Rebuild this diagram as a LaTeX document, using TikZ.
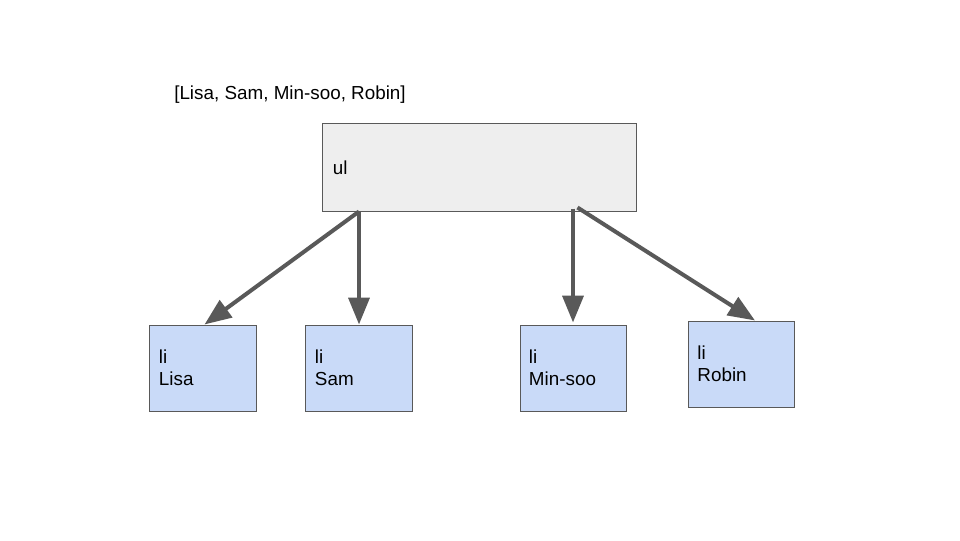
\documentclass[tikz,border=0pt]{standalone}
\usepackage{fontspec}
\setmainfont{Liberation Sans}
\usetikzlibrary{arrows.meta,calc}

\definecolor{domLine}{RGB}{89,89,89}
\definecolor{domUl}{RGB}{238,238,238}
\definecolor{domLi}{RGB}{201,218,248}

\begin{document}
\begin{tikzpicture}[x=0.025cm, y=-0.025cm, font=\fontsize{13.4}{16}\selectfont,
  listbox/.style={draw=domLine, line width=0.7pt, fill=domLi, align=left,
    text width=2.2cm, inner xsep=0.225cm, minimum height=2.15cm},
  parentbox/.style={draw=domLine, line width=0.7pt, fill=domUl, align=left,
    text width=7.325cm, inner xsep=0.25cm, minimum height=2.175cm},
  child/.style={draw=domLine, line width=2.85pt,
    -{Triangle[length=0.67cm, width=0.52cm]}}]
\useasboundingbox (0,0) rectangle (960,540);
%% Array printed above the list
\node (arr) at (290,94.5) {[Lisa, Sam, Min-soo, Robin]};
%% Parent element
\node[parentbox] (ul) at (479.5,167.5) {ul};
%% List items
\node[listbox] (lisa)   at (203,368)   {li\\Lisa};
\node[listbox] (sam)    at (359,368)   {li\\Sam};
\node[listbox] (minsoo) at (573,368)   {li\\Min-soo};
\node[listbox] (robin)  at (741.5,364) {li\\Robin};
%% Edges from parent to children
\draw[child] (sam.north |- ul.south) -- ($(lisa.north west)+(55,0)$);
\draw[child] (sam.north |- ul.south) -- (sam.north);
\draw[child] ($(minsoo.north |- ul.south)+(0,-3)$) -- ($(minsoo.north)+(0,-2)$);
\draw[child] ($(ul.south west)+(255,-4)$) -- ($(robin.north west)+(67,0)$);
\end{tikzpicture}
\end{document}
